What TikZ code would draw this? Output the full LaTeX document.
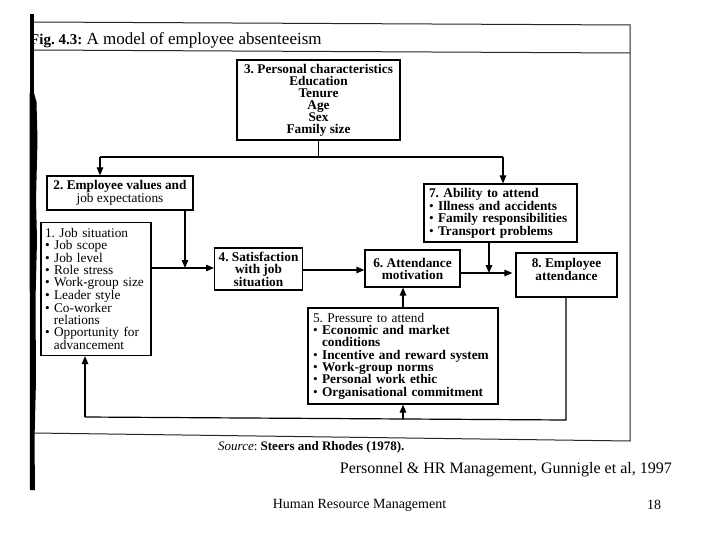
\documentclass[tikz,border=0pt]{standalone}
\usepackage{fontspec}
\setmainfont{Liberation Serif}
\usetikzlibrary{arrows.meta}
\frenchspacing
\tikzset{
  box/.style={draw, line width=1.2pt, inner xsep=4pt, inner ysep=0pt, font=\fontsize{13.3}{12}\selectfont},
  ln/.style={line width=1.2pt},
  arr/.style={line width=1.2pt, -{Triangle[length=8pt,width=6.5pt]}},
  frame/.style={line width=1pt, black!85},
}
\begin{document}
\begin{tikzpicture}[x=1pt,y=-1pt]
\useasboundingbox[fill=white] (0,0) rectangle (720,540);
% title
\node[anchor=west, inner sep=0pt, font=\fontsize{17}{17}\selectfont] (title) at (30,40) {{\fontsize{15}{15}\selectfont\textbf{Fig. 4.3:}} A model of employee absenteeism};
% frame
\draw[frame] (33,22) -- (630,25) -- (630,441) -- (33,433);
\draw[frame] (33,50) -- (630,53);
% scan bar
\fill[black] (30,14) rectangle (33.5,95);
\fill[black] (29.5,93) -- (34,93) -- (36.5,102) -- (37.5,140) -- (36,200) -- (37,240) -- (35.5,300) -- (36,380) -- (34.5,440) -- (35,490) -- (30,490) -- cycle;
% boxes
\node[box, minimum width=163, minimum height=80, align=center] (b3) at (318.5,100)
  {\textbf{3. Personal characteristics}\\ \textbf{Education}\\ \textbf{Tenure}\\ \textbf{Age}\\ \textbf{Sex}\\ \textbf{Family size}};
\node[box, minimum width=146, minimum height=34, align=center] (b2) at (120,193)
  {\textbf{2. Employee values and}\\ job expectations};
\node[box, minimum width=110, minimum height=133, text width=102, align=left] (b1) at (96,289)
  {1. Job situation\\ • Job scope\\ • Job level\\ • Role stress\\ • Work-group size\\ • Leader style\\ • Co-worker\\ \hspace*{9pt}relations\\ • Opportunity for\\ \hspace*{9pt}advancement};
\node[box, minimum width=87, minimum height=42, align=center] (b4) at (258.5,269)
  {\textbf{4. Satisfaction}\\ \textbf{with job}\\ \textbf{situation}};
\node[box, minimum width=95, minimum height=37, align=center] (b6) at (412.5,268.5)
  {\textbf{6. Attendance}\\ \textbf{motivation}};
\node[box, minimum width=101, minimum height=44, align=center] (b8) at (566.5,275)
  {\textbf{8. Employee}\\ \textbf{attendance}\\ \mbox{}};
\node[box, minimum width=153, minimum height=58, text width=143, align=left, inner xsep=5pt] (b7) at (500.5,213)
  {\textbf{7. Ability to attend}\\ • \textbf{Illness and accidents}\\ • \textbf{Family responsibilities}\\ • \textbf{Transport problems}};
\node[box, minimum width=190, minimum height=96, text width=180, align=left, inner xsep=5pt, font=\fontsize{13.3}{12.3}\selectfont] (b5) at (403,356)
  {5. Pressure to attend\\ • \textbf{Economic and market}\\ \hspace*{9pt}\textbf{conditions}\\ • \textbf{Incentive and reward system}\\ • \textbf{Work-group norms}\\ • \textbf{Personal work ethic}\\ • \textbf{Organisational commitment}};
% connectors
\coordinate (jl) at (100,157);
\coordinate (jr) at (503,157);
\draw[ln] (b3.south) -- (b3.south |- jl);
\draw[ln] (jl) -- (jr);
\draw[arr] (jl) -- (jl |- b2.north);
\draw[arr] (jr) -- (jr |- b7.north);
\coordinate (j1) at (185,268);
\draw[arr] (j1 |- b2.south) -- (j1);
\draw[arr] (b1.east |- j1) -- (b4.west |- j1);
\draw[arr] (b4.east |- 0,270) -- (b6.west |- 0,270);
\coordinate (j6) at (489,273);
\draw[arr] (b6.east |- j6) -- ([xshift=-3pt]b8.west |- j6);
\draw[arr] (b7.south -| j6) -- (j6);
\coordinate (x5) at (403,0);
\draw[arr] (b5.north -| x5) -- (b6.south -| x5);
\coordinate (lr) at (566,420);
\coordinate (ll) at (85,417);
\coordinate (lm) at (403,419);
\draw[ln] (b8.south -| lr) -- (lr) -- (ll);
\draw[arr] (ll) -- (b1.south -| ll);
\draw[arr] (lm) -- (b5.south -| lm);
% source and footer
\node[anchor=west, inner sep=0pt, font=\fontsize{13}{13}\selectfont] (src) at (218,447) {\textit{Source}: \textbf{Steers and Rhodes (1978).}};
\node[anchor=east, inner sep=0pt, font=\fontsize{16}{16}\selectfont] (ref) at (672,470) {Personnel \& HR Management, Gunnigle et al, 1997};
\node[inner sep=0pt, font=\fontsize{14}{14}\selectfont] (foot) at (359.5,505) {Human Resource Management};
\node[inner sep=0pt, font=\fontsize{14}{14}\selectfont] (page) at (654,505) {18};
\end{tikzpicture}
\end{document}
